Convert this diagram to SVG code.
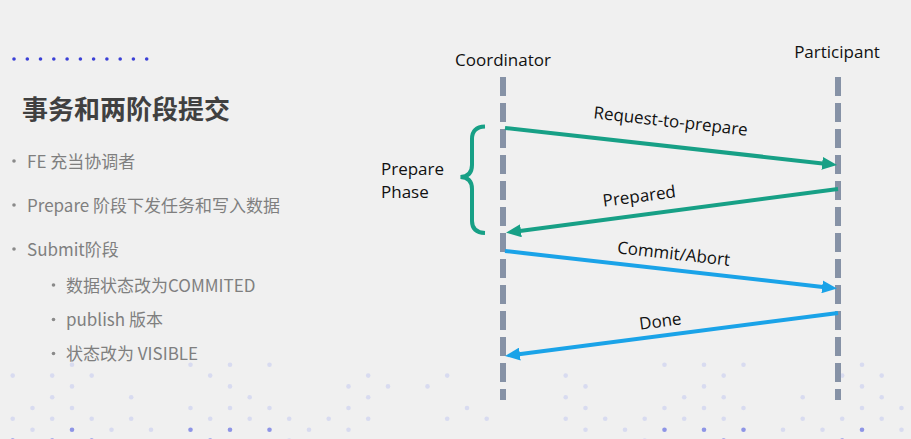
<svg xmlns="http://www.w3.org/2000/svg" width="911" height="439" viewBox="0 0 911 439">
<defs>
<style>
.bg{fill:#f0f0f0}
.hd{fill:#3b40d6}
.d{fill:#d8dbf0}
.dk{fill:#8e95e6}
.title{font-family:"Noto Sans CJK SC","Noto Sans",sans-serif;font-weight:bold;font-size:26px;fill:#404040}
.bt{font-family:"Noto Sans CJK SC","Noto Sans",sans-serif;font-size:17px;fill:#7f7f7f}
.bul{fill:#8a8a8a}
.lbl{font-family:"Open Sans","Noto Sans",sans-serif;font-size:17px;fill:#111111}
.life{stroke:#8692a6;stroke-width:6;stroke-dasharray:19 7;fill:none}
.g{stroke:#17a086;stroke-width:4;fill:none}
.b{stroke:#1aa3e8;stroke-width:4;fill:none}
</style>
<marker id="ag" markerUnits="userSpaceOnUse" markerWidth="15" markerHeight="13" refX="5" refY="6.5" orient="auto">
<path d="M0,0 L15,6.5 L0,13 z" fill="#17a086"/>
</marker>
<marker id="ab" markerUnits="userSpaceOnUse" markerWidth="15" markerHeight="13" refX="5" refY="6.5" orient="auto">
<path d="M0,0 L15,6.5 L0,13 z" fill="#1aa3e8"/>
</marker>
</defs>
<rect class="bg" x="0" y="0" width="911" height="439"/>

<g id="header-dots">
<circle class="hd" cx="14" cy="59" r="1.8"/><circle class="hd" cx="27.3" cy="59" r="1.8"/><circle class="hd" cx="40.5" cy="59" r="1.8"/><circle class="hd" cx="53.8" cy="59" r="1.8"/><circle class="hd" cx="67.1" cy="59" r="1.8"/><circle class="hd" cx="80.4" cy="59" r="1.8"/><circle class="hd" cx="93.6" cy="59" r="1.8"/><circle class="hd" cx="106.9" cy="59" r="1.8"/><circle class="hd" cx="120.2" cy="59" r="1.8"/><circle class="hd" cx="133.4" cy="59" r="1.8"/><circle class="hd" cx="146.7" cy="59" r="1.8"/>
</g>

<g id="bg-dots">
<circle class="d" cx="72" cy="364.7" r="2.3"/><circle class="d" cx="190.5" cy="364.7" r="2.3"/><circle class="d" cx="230" cy="364.7" r="2.3"/><circle class="d" cx="269.5" cy="364.7" r="2.3"/><circle class="d" cx="664.5" cy="364.7" r="2.3"/><circle class="d" cx="704" cy="364.7" r="2.3"/><circle class="d" cx="743.5" cy="364.7" r="2.3"/><circle class="d" cx="862" cy="364.7" r="2.3"/>
<circle class="d" cx="12.7" cy="375.6" r="2.3"/><circle class="d" cx="52.2" cy="375.6" r="2.3"/><circle class="d" cx="91.7" cy="375.6" r="2.3"/><circle class="d" cx="210.2" cy="375.6" r="2.3"/><circle class="d" cx="368.2" cy="375.6" r="2.3"/><circle class="d" cx="447.2" cy="375.6" r="2.3"/><circle class="d" cx="565.7" cy="375.6" r="2.3"/><circle class="d" cx="723.7" cy="375.6" r="2.3"/><circle class="d" cx="842.2" cy="375.6" r="2.3"/><circle class="d" cx="881.7" cy="375.6" r="2.3"/>
<circle class="d" cx="72" cy="386.4" r="2.3"/><circle class="d" cx="230" cy="386.4" r="2.3"/><circle class="d" cx="348.5" cy="386.4" r="2.3"/><circle class="d" cx="388" cy="386.4" r="2.3"/><circle class="d" cx="427.5" cy="386.4" r="2.3"/><circle class="d" cx="585.5" cy="386.4" r="2.3"/><circle class="d" cx="704" cy="386.4" r="2.3"/><circle class="d" cx="862" cy="386.4" r="2.3"/>
<circle class="d" cx="52.2" cy="397.2" r="2.3"/><circle class="d" cx="131.2" cy="397.2" r="2.3"/><circle class="d" cx="249.7" cy="397.2" r="2.3"/><circle class="d" cx="368.2" cy="397.2" r="2.3"/><circle class="d" cx="565.7" cy="397.2" r="2.3"/><circle class="d" cx="684.2" cy="397.2" r="2.3"/><circle class="d" cx="723.7" cy="397.2" r="2.3"/><circle class="d" cx="802.7" cy="397.2" r="2.3"/><circle class="d" cx="881.7" cy="397.2" r="2.3"/>
<circle class="d" cx="32.5" cy="408" r="2.3"/><circle class="d" cx="72" cy="408" r="2.3"/><circle class="d" cx="190.5" cy="408" r="2.3"/><circle class="d" cx="230" cy="408" r="2.3"/><circle class="d" cx="269.5" cy="408" r="2.3"/><circle class="d" cx="348.5" cy="408" r="2.3"/><circle class="d" cx="467" cy="408" r="2.3"/><circle class="d" cx="585.5" cy="408" r="2.3"/><circle class="d" cx="664.5" cy="408" r="2.3"/><circle class="d" cx="704" cy="408" r="2.3"/><circle class="d" cx="743.5" cy="408" r="2.3"/><circle class="d" cx="862" cy="408" r="2.3"/><circle class="d" cx="901.5" cy="408" r="2.3"/>
<circle class="d" cx="12.7" cy="418.8" r="2.3"/><circle class="d" cx="52.2" cy="418.8" r="2.3"/><circle class="d" cx="91.7" cy="418.8" r="2.3"/><circle class="d" cx="131.2" cy="418.8" r="2.3"/><circle class="d" cx="210.2" cy="418.8" r="2.3"/><circle class="d" cx="249.7" cy="418.8" r="2.3"/><circle class="d" cx="289.2" cy="418.8" r="2.3"/><circle class="d" cx="328.7" cy="418.8" r="2.3"/><circle class="d" cx="368.2" cy="418.8" r="2.3"/><circle class="d" cx="447.2" cy="418.8" r="2.3"/><circle class="d" cx="486.7" cy="418.8" r="2.3"/><circle class="d" cx="565.7" cy="418.8" r="2.3"/><circle class="d" cx="605.2" cy="418.8" r="2.3"/><circle class="d" cx="644.7" cy="418.8" r="2.3"/><circle class="d" cx="684.2" cy="418.8" r="2.3"/><circle class="d" cx="723.7" cy="418.8" r="2.3"/><circle class="d" cx="802.7" cy="418.8" r="2.3"/><circle class="d" cx="842.2" cy="418.8" r="2.3"/><circle class="d" cx="881.7" cy="418.8" r="2.3"/>
<circle class="d" cx="32.5" cy="429.7" r="2.3"/><circle class="dk" cx="72" cy="429.7" r="2.3"/><circle class="d" cx="111.5" cy="429.7" r="2.3"/><circle class="d" cx="151" cy="429.7" r="2.3"/><circle class="dk" cx="190.5" cy="429.7" r="2.3"/><circle class="dk" cx="230" cy="429.7" r="2.3"/><circle class="dk" cx="269.5" cy="429.7" r="2.3"/><circle class="d" cx="309" cy="429.7" r="2.3"/><circle class="d" cx="348.5" cy="429.7" r="2.3"/><circle class="d" cx="585.5" cy="429.7" r="2.3"/><circle class="d" cx="625" cy="429.7" r="2.3"/><circle class="dk" cx="664.5" cy="429.7" r="2.3"/><circle class="dk" cx="704" cy="429.7" r="2.3"/><circle class="dk" cx="743.5" cy="429.7" r="2.3"/><circle class="d" cx="783" cy="429.7" r="2.3"/><circle class="d" cx="822.5" cy="429.7" r="2.3"/><circle class="dk" cx="862" cy="429.7" r="2.3"/><circle class="d" cx="901.5" cy="429.7" r="2.3"/>
<circle class="dk" cx="12.7" cy="440.5" r="2.3"/><circle class="dk" cx="52.2" cy="440.5" r="2.3"/><circle class="dk" cx="91.7" cy="440.5" r="2.3"/><circle class="dk" cx="210.2" cy="440.5" r="2.3"/><circle class="d" cx="289.2" cy="440.5" r="2.3"/><circle class="d" cx="644.7" cy="440.5" r="2.3"/><circle class="dk" cx="723.7" cy="440.5" r="2.3"/><circle class="dk" cx="842.2" cy="440.5" r="2.3"/>
</g>

<g id="title">
<text class="title" x="22" y="119">事务和两阶段提交</text>
</g>

<g id="bullets">
<circle class="bul" cx="14" cy="161" r="1.8"/><text class="bt" x="27" y="168">FE 充当协调者</text>
<circle class="bul" cx="14" cy="205" r="1.8"/><text class="bt" x="27" y="212">Prepare 阶段下发任务和写入数据</text>
<circle class="bul" cx="14" cy="249" r="1.8"/><text class="bt" x="27" y="256">Submit阶段</text>
<circle class="bul" cx="53.5" cy="285" r="1.8"/><text class="bt" x="66" y="292">数据状态改为COMMITED</text>
<circle class="bul" cx="53.5" cy="319.5" r="1.8"/><text class="bt" x="66" y="326">publish 版本</text>
<circle class="bul" cx="53.5" cy="353.5" r="1.8"/><text class="bt" x="66" y="360">状态改为 VISIBLE</text>
</g>

<g id="coordinator">
<line class="life" x1="503" y1="77" x2="503" y2="400"/>
<text class="lbl" x="503" y="66" text-anchor="middle">Coordinator</text>
</g>
<g id="participant">
<line class="life" x1="838" y1="77" x2="838" y2="400"/>
<text class="lbl" x="837" y="58" text-anchor="middle">Participant</text>
</g>

<g id="prepare-phase">
<path class="g" d="M485,126.5 Q472,127 472,139 L472,165 Q472,176.5 460.5,177 Q472,177.5 472,189 L472,221 Q472,232.5 485,233"/>
<text class="lbl" x="381" y="175">Prepare</text>
<text class="lbl" x="381" y="198">Phase</text>
</g>

<g id="connectors">
<line class="g" x1="505" y1="128" x2="827.1" y2="163.9" marker-end="url(#ag)"/>
<line class="g" x1="838" y1="189" x2="516" y2="231.4" marker-end="url(#ag)"/>
<line class="b" x1="505" y1="251" x2="827.1" y2="287.4" marker-end="url(#ab)"/>
<line class="b" x1="838" y1="313" x2="514.9" y2="354.7" marker-end="url(#ab)"/>
<text class="lbl" text-anchor="middle" transform="translate(670,127) rotate(6.5)">Request-to-prepare</text>
<text class="lbl" text-anchor="middle" transform="translate(640,202) rotate(-7.5)">Prepared</text>
<text class="lbl" text-anchor="middle" transform="translate(673,259.5) rotate(6.4)">Commit/Abort</text>
<text class="lbl" text-anchor="middle" transform="translate(661,327) rotate(-7.4)">Done</text>
</g>
</svg>
